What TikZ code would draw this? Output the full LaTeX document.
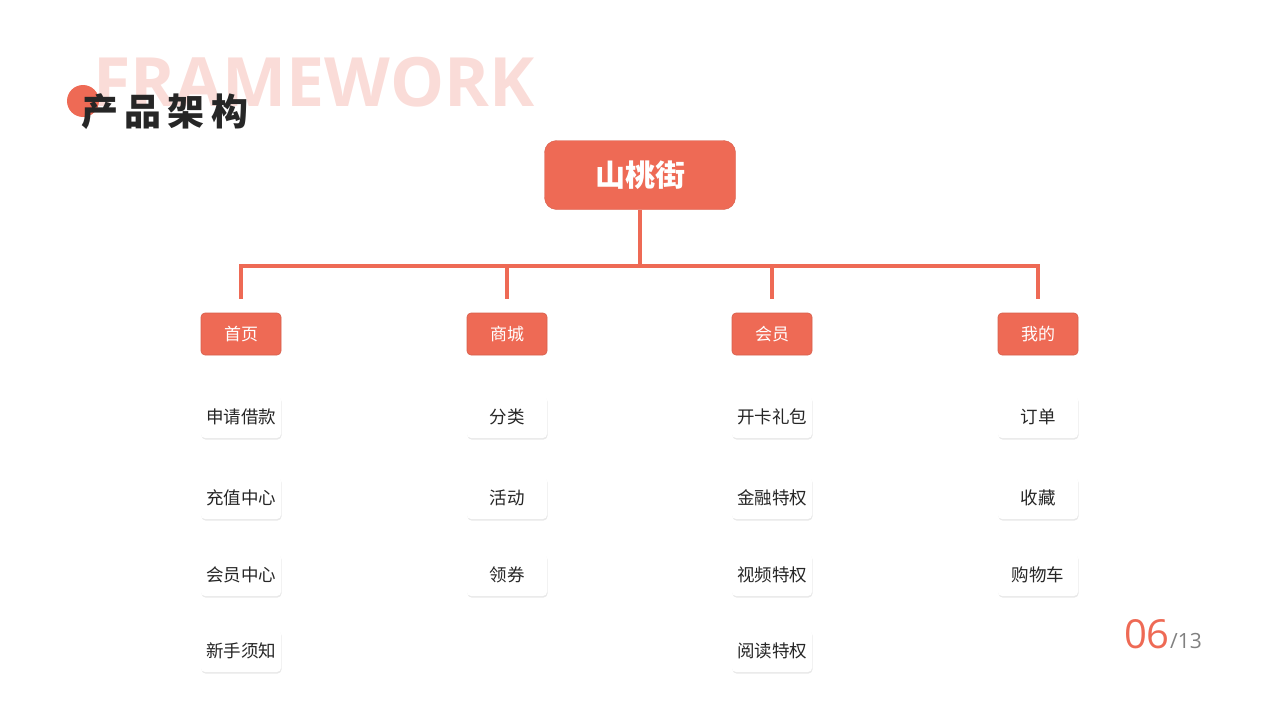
\documentclass[tikz,border=0pt]{standalone}
\usepackage{fontspec}
\setmainfont{Noto Sans CJK SC}
\newfontfamily\latinb{Open Sans}
\usetikzlibrary{shadows}
\definecolor{peach}{HTML}{EE6A55}
\definecolor{pinkbg}{HTML}{FADCD8}
\definecolor{darktxt}{HTML}{262626}
\tikzset{
  cat/.style={fill=peach,draw=peach!90!black,line width=0.6pt,rounded corners=4pt,minimum width=80pt,minimum height=42pt,text=white,font=\fontsize{17}{20}\selectfont},
  leaf/.style={fill=white,rounded corners=4pt,minimum width=80pt,minimum height=42pt,text=darktxt,font=\fontsize{17.5}{20}\selectfont,drop shadow={shadow xshift=0.5pt,shadow yshift=-1.5pt,fill=black!15,opacity=0.6}},
  conn/.style={draw=peach,line width=4pt}
}
\begin{document}
\begin{tikzpicture}[x=1pt,y=-1pt]
\useasboundingbox (0,0) rectangle (1280,720);
\node[anchor=west,text=pinkbg,font=\latinb\bfseries\fontsize{68}{70}\selectfont] (fw) at (90,82) {FRAMEWORK};
\fill[peach] (83,101) circle (16);
\node[anchor=west,text=darktxt,font=\bfseries\fontsize{37}{40}\selectfont] (title) at (78,112) {产\,品\,架\,构};
\node[fill=peach,draw=peach!90!black,rounded corners=12pt,minimum width=191pt,minimum height=69pt,text=white,font=\bfseries\fontsize{30}{34}\selectfont] (root) at (640,175) {山桃街};
\coordinate (j) at (640,266);
\coordinate (l) at (241,266);
\coordinate (r) at (1038,266);
\foreach \n/\x in {a/241,b/507,c/772,d/1038}{\coordinate (t\n) at (\x,266); \coordinate (e\n) at (\x,299);}
\draw[conn] (root.south) -- (j);
\draw[conn,line cap=rect] (l) -- (r);
\foreach \n in {a,b,c,d}{\draw[conn] (t\n) -- (e\n);}
\node[cat] (ca) at (241,334) {首页};
\node[cat] (cb) at (507,334) {商城};
\node[cat] (cc) at (772,334) {会员};
\node[cat] (cd) at (1038,334) {我的};
\node[leaf] (a1) at (241,417) {申请借款};
\node[leaf] (a2) at (241,498) {充值中心};
\node[leaf] (a3) at (241,575) {会员中心};
\node[leaf] (a4) at (241,651) {新手须知};
\node[leaf] (b1) at (507,417) {分类};
\node[leaf] (b2) at (507,498) {活动};
\node[leaf] (b3) at (507,575) {领券};
\node[leaf] (c1) at (772,417) {开卡礼包};
\node[leaf] (c2) at (772,498) {金融特权};
\node[leaf] (c3) at (772,575) {视频特权};
\node[leaf] (c4) at (772,651) {阅读特权};
\node[leaf] (d1) at (1038,417) {订单};
\node[leaf] (d2) at (1038,498) {收藏};
\node[leaf] (d3) at (1038,575) {购物车};
\node[anchor=base east,inner sep=0,text=peach,font=\latinb\fontsize{40}{40}\selectfont] (pg) at (1170,648) {06};
\node[anchor=base west,inner sep=0,text=black!50,font=\latinb\fontsize{21}{21}\selectfont] (pt) at (pg.base east) {/13};
\end{tikzpicture}
\end{document}
